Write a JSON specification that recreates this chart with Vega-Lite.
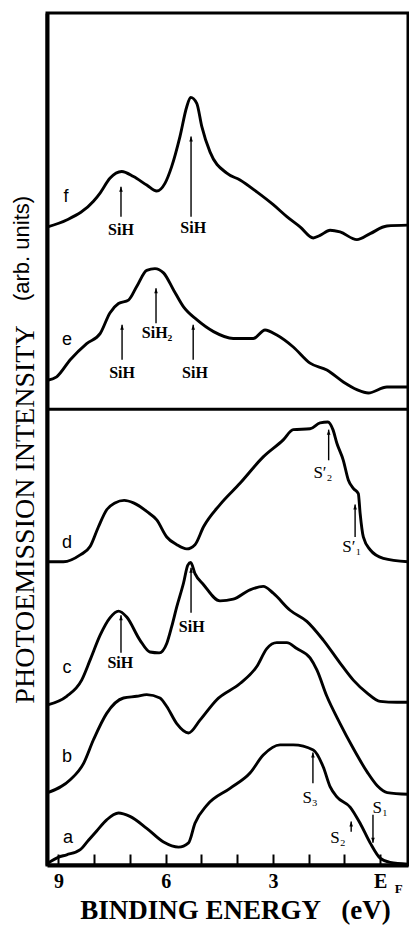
{
  "$schema": "https://vega.github.io/schema/vega-lite/v6.json",
  "width": 361,
  "height": 852,
  "autosize": {"type": "none"},
  "padding": {"left": 47, "top": 13, "right": 1, "bottom": 61},
  "background": "white",
  "config": {
    "view": {"stroke": "black", "strokeWidth": 3},
    "axis": {"grid": false}
  },
  "datasets": {
    "spectra": [
      {"s":"f","e":9.30,"i":7.49},{"s":"f","e":8.77,"i":7.57},{"s":"f","e":8.02,"i":7.79},{"s":"f","e":7.83,"i":7.89},{"s":"f","e":7.56,"i":8.06},{"s":"f","e":7.23,"i":8.14},{"s":"f","e":6.90,"i":8.08},{"s":"f","e":6.53,"i":7.98},{"s":"f","e":6.25,"i":7.91},{"s":"f","e":6.02,"i":8.00},{"s":"f","e":5.83,"i":8.20},{"s":"f","e":5.60,"i":8.55},{"s":"f","e":5.41,"i":8.90},{"s":"f","e":5.30,"i":9.01},{"s":"f","e":5.13,"i":8.94},{"s":"f","e":4.99,"i":8.67},{"s":"f","e":4.76,"i":8.37},{"s":"f","e":4.29,"i":8.12},{"s":"f","e":3.92,"i":8.04},{"s":"f","e":3.45,"i":7.90},{"s":"f","e":2.99,"i":7.75},{"s":"f","e":2.61,"i":7.61},{"s":"f","e":2.24,"i":7.49},{"s":"f","e":1.87,"i":7.36},{"s":"f","e":1.68,"i":7.39},{"s":"f","e":1.40,"i":7.45},{"s":"f","e":1.12,"i":7.43},{"s":"f","e":0.65,"i":7.34},{"s":"f","e":0.28,"i":7.41},{"s":"f","e":-0.19,"i":7.50},{"s":"f","e":-0.78,"i":7.51},
      {"s":"e","e":9.30,"i":5.69},{"s":"e","e":9.05,"i":5.73},{"s":"e","e":8.67,"i":5.93},{"s":"e","e":8.21,"i":6.12},{"s":"e","e":7.83,"i":6.24},{"s":"e","e":7.56,"i":6.48},{"s":"e","e":7.32,"i":6.59},{"s":"e","e":7.04,"i":6.63},{"s":"e","e":6.81,"i":6.79},{"s":"e","e":6.53,"i":6.98},{"s":"e","e":6.30,"i":7.00},{"s":"e","e":6.06,"i":6.95},{"s":"e","e":5.78,"i":6.75},{"s":"e","e":5.50,"i":6.55},{"s":"e","e":5.13,"i":6.40},{"s":"e","e":4.66,"i":6.26},{"s":"e","e":4.11,"i":6.18},{"s":"e","e":3.55,"i":6.18},{"s":"e","e":3.22,"i":6.28},{"s":"e","e":2.89,"i":6.22},{"s":"e","e":2.43,"i":6.08},{"s":"e","e":1.96,"i":5.89},{"s":"e","e":1.49,"i":5.81},{"s":"e","e":1.03,"i":5.67},{"s":"e","e":0.65,"i":5.58},{"s":"e","e":0.33,"i":5.54},{"s":"e","e":-0.19,"i":5.61},{"s":"e","e":-0.78,"i":5.61},
      {"s":"d","e":9.30,"i":3.56},{"s":"d","e":8.86,"i":3.56},{"s":"d","e":8.39,"i":3.64},{"s":"d","e":8.11,"i":3.74},{"s":"d","e":7.88,"i":3.97},{"s":"d","e":7.65,"i":4.17},{"s":"d","e":7.42,"i":4.25},{"s":"d","e":7.16,"i":4.28},{"s":"d","e":6.90,"i":4.25},{"s":"d","e":6.53,"i":4.15},{"s":"d","e":6.25,"i":4.05},{"s":"d","e":5.97,"i":3.85},{"s":"d","e":5.69,"i":3.76},{"s":"d","e":5.41,"i":3.71},{"s":"d","e":5.18,"i":3.76},{"s":"d","e":4.94,"i":3.97},{"s":"d","e":4.48,"i":4.23},{"s":"d","e":3.92,"i":4.48},{"s":"d","e":3.27,"i":4.79},{"s":"d","e":2.71,"i":4.99},{"s":"d","e":2.43,"i":5.11},{"s":"d","e":1.96,"i":5.12},{"s":"d","e":1.68,"i":5.19},{"s":"d","e":1.46,"i":5.20},{"s":"d","e":1.32,"i":5.11},{"s":"d","e":1.21,"i":4.95},{"s":"d","e":1.03,"i":4.75},{"s":"d","e":0.89,"i":4.52},{"s":"d","e":0.75,"i":4.42},{"s":"d","e":0.61,"i":4.36},{"s":"d","e":0.56,"i":4.13},{"s":"d","e":0.47,"i":3.85},{"s":"d","e":0.28,"i":3.70},{"s":"d","e":-0.09,"i":3.60},{"s":"d","e":-0.78,"i":3.56},
      {"s":"c","e":9.30,"i":1.88},{"s":"c","e":8.77,"i":1.98},{"s":"c","e":8.35,"i":2.17},{"s":"c","e":8.11,"i":2.41},{"s":"c","e":7.83,"i":2.70},{"s":"c","e":7.56,"i":2.90},{"s":"c","e":7.32,"i":2.98},{"s":"c","e":7.09,"i":2.91},{"s":"c","e":6.72,"i":2.64},{"s":"c","e":6.44,"i":2.50},{"s":"c","e":6.18,"i":2.49},{"s":"c","e":5.97,"i":2.60},{"s":"c","e":5.83,"i":2.80},{"s":"c","e":5.69,"i":3.03},{"s":"c","e":5.50,"i":3.31},{"s":"c","e":5.38,"i":3.52},{"s":"c","e":5.30,"i":3.55},{"s":"c","e":5.18,"i":3.42},{"s":"c","e":4.94,"i":3.29},{"s":"c","e":4.48,"i":3.10},{"s":"c","e":4.11,"i":3.12},{"s":"c","e":3.64,"i":3.23},{"s":"c","e":3.27,"i":3.27},{"s":"c","e":2.99,"i":3.19},{"s":"c","e":2.52,"i":2.99},{"s":"c","e":2.05,"i":2.86},{"s":"c","e":1.59,"i":2.64},{"s":"c","e":1.12,"i":2.37},{"s":"c","e":0.75,"i":2.17},{"s":"c","e":0.37,"i":2.02},{"s":"c","e":0.00,"i":1.92},{"s":"c","e":-0.47,"i":1.91},{"s":"c","e":-0.78,"i":1.91},
      {"s":"b","e":9.30,"i":0.85},{"s":"b","e":8.67,"i":1.00},{"s":"b","e":8.30,"i":1.19},{"s":"b","e":8.02,"i":1.47},{"s":"b","e":7.65,"i":1.78},{"s":"b","e":7.18,"i":1.96},{"s":"b","e":6.81,"i":1.98},{"s":"b","e":6.53,"i":2.00},{"s":"b","e":6.16,"i":1.96},{"s":"b","e":5.97,"i":1.86},{"s":"b","e":5.69,"i":1.66},{"s":"b","e":5.36,"i":1.55},{"s":"b","e":5.04,"i":1.70},{"s":"b","e":4.57,"i":1.94},{"s":"b","e":3.92,"i":2.13},{"s":"b","e":3.45,"i":2.33},{"s":"b","e":3.17,"i":2.54},{"s":"b","e":2.89,"i":2.61},{"s":"b","e":2.61,"i":2.61},{"s":"b","e":2.33,"i":2.54},{"s":"b","e":1.96,"i":2.43},{"s":"b","e":1.77,"i":2.29},{"s":"b","e":1.49,"i":1.98},{"s":"b","e":1.12,"i":1.66},{"s":"b","e":0.78,"i":1.39},{"s":"b","e":0.36,"i":1.09},{"s":"b","e":0.08,"i":0.93},{"s":"b","e":-0.20,"i":0.85},{"s":"b","e":-0.78,"i":0.83},
      {"s":"a","e":9.30,"i":0.02},{"s":"a","e":9.01,"i":0.09},{"s":"a","e":8.77,"i":0.12},{"s":"a","e":8.39,"i":0.18},{"s":"a","e":8.16,"i":0.29},{"s":"a","e":7.93,"i":0.40},{"s":"a","e":7.65,"i":0.53},{"s":"a","e":7.32,"i":0.61},{"s":"a","e":7.00,"i":0.57},{"s":"a","e":6.53,"i":0.43},{"s":"a","e":6.06,"i":0.27},{"s":"a","e":5.64,"i":0.21},{"s":"a","e":5.36,"i":0.26},{"s":"a","e":5.18,"i":0.49},{"s":"a","e":4.85,"i":0.70},{"s":"a","e":4.20,"i":0.90},{"s":"a","e":3.64,"i":1.08},{"s":"a","e":3.27,"i":1.29},{"s":"a","e":2.80,"i":1.41},{"s":"a","e":2.43,"i":1.41},{"s":"a","e":1.87,"i":1.35},{"s":"a","e":1.59,"i":1.15},{"s":"a","e":1.40,"i":0.92},{"s":"a","e":1.21,"i":0.80},{"s":"a","e":0.84,"i":0.68},{"s":"a","e":0.56,"i":0.49},{"s":"a","e":0.28,"i":0.26},{"s":"a","e":0.00,"i":0.08},{"s":"a","e":-0.28,"i":0.03},{"s":"a","e":-0.78,"i":0.01}
    ],
    "arrows": [
      {"x":7.25,"y0":7.61,"y1":7.96,"dir":"up"},
      {"x":5.29,"y0":7.61,"y1":8.55,"dir":"up"},
      {"x":7.22,"y0":5.93,"y1":6.34,"dir":"up"},
      {"x":6.27,"y0":6.36,"y1":6.77,"dir":"up"},
      {"x":5.23,"y0":5.93,"y1":6.34,"dir":"up"},
      {"x":1.44,"y0":4.75,"y1":5.11,"dir":"up"},
      {"x":0.70,"y0":3.85,"y1":4.23,"dir":"up"},
      {"x":5.29,"y0":2.96,"y1":3.49,"dir":"up"},
      {"x":7.25,"y0":2.49,"y1":2.93,"dir":"up"},
      {"x":1.88,"y0":0.96,"y1":1.32,"dir":"up"},
      {"x":0.81,"y0":0.39,"y1":0.51,"dir":"up"},
      {"x":0.20,"y0":0.59,"y1":0.26,"dir":"down"}
    ],
    "species": [
      {"x":7.25,"y":7.45,"t":"SiH"},
      {"x":5.23,"y":7.48,"t":"SiH"},
      {"x":7.22,"y":5.78,"t":"SiH"},
      {"x":6.24,"y":6.24,"t":"SiH₂"},
      {"x":5.18,"y":5.78,"t":"SiH"},
      {"x":5.27,"y":2.79,"t":"SiH"},
      {"x":7.27,"y":2.37,"t":"SiH"}
    ],
    "states": [
      {"x":1.60,"y":4.60,"t":"S′₂"},
      {"x":0.79,"y":3.73,"t":"S′₁"},
      {"x":1.96,"y":0.79,"t":"S₃"},
      {"x":1.18,"y":0.32,"t":"S₂"},
      {"x":0.00,"y":0.67,"t":"S₁"}
    ],
    "curves": [
      {"x":8.79,"y":7.84,"t":"f"},
      {"x":8.76,"y":6.16,"t":"e"},
      {"x":8.76,"y":3.78,"t":"d"},
      {"x":8.76,"y":2.31,"t":"c"},
      {"x":8.76,"y":1.27,"t":"b"},
      {"x":8.73,"y":0.32,"t":"a"}
    ],
    "divider": [{"y":5.35}]
  },
  "layer": [
    {
      "data": {"name": "spectra"},
      "mark": {"type": "line", "color": "black", "strokeWidth": 2.9, "interpolate": "monotone", "strokeCap": "round", "strokeJoin": "round", "clip": true},
      "encoding": {
        "x": {
          "field": "e", "type": "quantitative",
          "scale": {"domain": [-0.78, 9.32], "reverse": true, "nice": false, "zero": false},
          "axis": {
            "orient": "bottom",
            "values": [9, 8, 7, 6, 5, 4, 3, 2, 1, 0],
            "labelExpr": "datum.value == 0 ? '\u00a0E' : (datum.value % 3 == 0 ? datum.label : '')",
            "tickSize": -11, "tickWidth": 2, "tickColor": "black",
            "domainWidth": 4, "domainColor": "black",
            "labelFont": "Liberation Serif", "labelFontWeight": "bold", "labelFontSize": 20, "labelColor": "black",
            "labelPadding": 17, "labelFlush": false, "labelOverlap": false, "labelBound": false,
            "title": "BINDING ENERGY\u00a0\u00a0\u00a0(eV)",
            "titleFont": "Liberation Serif", "titleFontWeight": "bold", "titleFontSize": 27, "titleColor": "black",
            "titleX": 188, "titleY": 53, "titleAlign": "center", "titleBaseline": "alphabetic"
          }
        },
        "y": {
          "field": "i", "type": "quantitative",
          "scale": {"domain": [0, 10], "nice": false, "zero": false},
          "axis": {
            "orient": "left", "ticks": false, "labels": false,
            "domainWidth": 4, "domainColor": "black",
            "title": "PHOTOEMISSION INTENSITY",
            "titleFont": "Liberation Serif", "titleFontWeight": "normal", "titleFontSize": 28, "titleColor": "black",
            "titleAngle": 270, "titleX": -14, "titleY": 501, "titleAlign": "center", "titleBaseline": "alphabetic"
          }
        },
        "detail": {"field": "s", "type": "nominal"}
      }
    },
    {
      "data": {"name": "divider"},
      "mark": {"type": "rule", "color": "black", "strokeWidth": 3},
      "encoding": {
        "y": {"field": "y", "type": "quantitative", "axis": null}
      }
    },
    {
      "data": {"name": "arrows"},
      "mark": {"type": "rule", "color": "black", "strokeWidth": 1.4},
      "encoding": {
        "x": {"field": "x", "type": "quantitative", "axis": null},
        "y": {"field": "y0", "type": "quantitative", "axis": null},
        "y2": {"field": "y1"}
      }
    },
    {
      "data": {"name": "arrows"},
      "mark": {"type": "point", "filled": true, "color": "black", "size": 100, "opacity": 1, "strokeWidth": 0},
      "encoding": {
        "x": {"field": "x", "type": "quantitative", "axis": null},
        "y": {"field": "y1", "type": "quantitative", "axis": null},
        "shape": {"field": "dir", "type": "nominal", "scale": {"domain": ["up", "down"], "range": ["M0,0L0.36,1L-0.36,1Z", "M0,0L0.36,-1L-0.36,-1Z"]}, "legend": null}
      }
    },
    {
      "data": {"name": "species"},
      "mark": {"type": "text", "font": "Liberation Serif", "fontWeight": "bold", "fontSize": 16, "color": "black", "align": "center", "baseline": "middle"},
      "encoding": {
        "x": {
          "field": "x", "type": "quantitative",
          "axis": {
            "orient": "bottom", "values": [0], "labelExpr": "'F'",
            "ticks": false, "tickSize": 0, "domain": false, "grid": false, "title": null,
            "labelFont": "Liberation Serif", "labelFontWeight": "bold", "labelFontSize": 13, "labelColor": "black",
            "labelOffset": 18, "labelPadding": 17, "labelFlush": false, "labelOverlap": false, "labelBound": false
          }
        },
        "y": {
          "field": "y", "type": "quantitative",
          "axis": {
            "orient": "left", "ticks": false, "labels": false, "domain": false, "grid": false,
            "title": "(arb. units)",
            "titleFont": "Liberation Sans", "titleFontWeight": "normal", "titleFontSize": 22, "titleColor": "black",
            "titleAngle": 270, "titleX": -19, "titleY": 235, "titleAlign": "center", "titleBaseline": "alphabetic"
          }
        },
        "text": {"field": "t", "type": "nominal"}
      }
    },
    {
      "data": {"name": "states"},
      "mark": {"type": "text", "font": "Liberation Serif", "fontSize": 17, "color": "black", "align": "center", "baseline": "middle"},
      "encoding": {
        "x": {"field": "x", "type": "quantitative", "axis": null},
        "y": {"field": "y", "type": "quantitative", "axis": null},
        "text": {"field": "t", "type": "nominal"}
      }
    },
    {
      "data": {"name": "curves"},
      "mark": {"type": "text", "font": "Liberation Sans", "fontSize": 18, "color": "black", "align": "center", "baseline": "middle"},
      "encoding": {
        "x": {"field": "x", "type": "quantitative", "axis": null},
        "y": {"field": "y", "type": "quantitative", "axis": null},
        "text": {"field": "t", "type": "nominal"}
      }
    }
  ],
  "resolve": {"axis": {"x": "independent", "y": "independent"}}
}
